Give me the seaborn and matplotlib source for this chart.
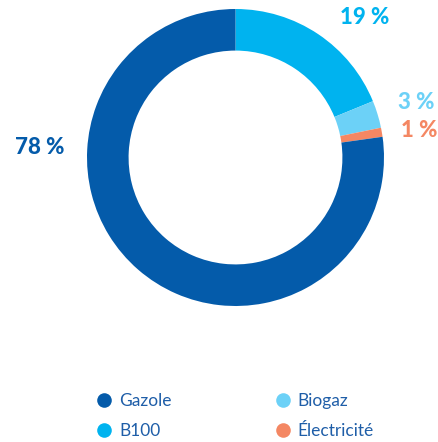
import matplotlib
matplotlib.use("Agg")
import matplotlib.pyplot as plt
from matplotlib.lines import Line2D
import seaborn as sns

# Energy mix shares (%)
categories = ["B100", "Biogaz", "Électricité", "Gazole"]
shares = [19, 3, 1, 78]
labels = ["19 %", "3 %", "1 %", "78 %"]
legend_order = ["Gazole", "B100", "Biogaz", "Électricité"]

palette = {
    "Gazole": "#045BAA",
    "B100": "#00B3EF",
    "Biogaz": "#6CD1F7",
    "Électricité": "#F48763",
}

sns.set_theme(style="white")
plt.rcParams["font.family"] = ["Lato", "DejaVu Sans"]

W, H = 438, 442
fig = plt.figure(figsize=(W / 100, H / 100), dpi=100)
fig.patch.set_facecolor("white")

# Donut: center (235.5, 157.5) px, outer radius 148.5 px
cx, cy, r = 235.5, 157.5, 148.5
ax = fig.add_axes([(cx - r) / W, 1 - (cy + r) / H, 2 * r / W, 2 * r / H])

ax.pie(
    shares,
    colors=[palette[c] for c in categories],
    startangle=90,
    counterclock=False,
    radius=1,
    wedgeprops=dict(width=0.28, linewidth=0),
)
ax.set_xlim(-1, 1)
ax.set_ylim(-1, 1)
ax.set_aspect("equal")
ax.axis("off")

# Percentage labels (pixel positions)
label_pos = {"B100": (364.5, 18), "Biogaz": (416.5, 102), "Électricité": (419, 130), "Gazole": (40, 148)}
for cat, lab in zip(categories, labels):
    px, py = label_pos[cat]
    fig.text(px / W, 1 - py / H, lab, ha="center", va="center",
             fontsize=16, fontweight=900, color=palette[cat])

handles = [Line2D([0], [0], marker="o", linestyle="", markersize=10.5,
                  markerfacecolor=palette[c], markeredgewidth=0) for c in legend_order]
leg = fig.legend(handles, legend_order, ncol=2, loc="center left",
                 bbox_to_anchor=(87 / W, 1 - 416 / H), frameon=False,
                 fontsize=12.5, handletextpad=0.35, columnspacing=5.9,
                 labelspacing=0.8, handlelength=1.0, borderpad=0)
for t in leg.get_texts():
    t.set_color("#1F5EA8")

fig.savefig("out.png", dpi=100, facecolor="white")
